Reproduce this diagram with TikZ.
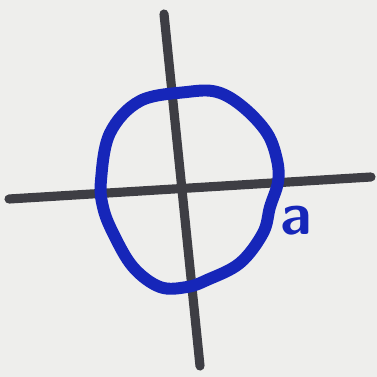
\documentclass[tikz,border=0pt]{standalone}
\usepackage{tikz}
\usetikzlibrary{positioning}
\definecolor{paper}{RGB}{238,238,236}
\definecolor{ink}{RGB}{22,38,185}
\definecolor{pencil}{RGB}{62,62,68}
\tikzset{
  axis/.style={pencil, line width=2.6pt, line cap=round},
  loop/.style={ink, line width=3.4pt, line cap=round, line join=round},
  tag/.style={ink, font=\fontsize{17}{17}\selectfont\sffamily\bfseries, inner sep=0pt}
}

\begin{document}
\begin{tikzpicture}[x=0.01cm, y=-0.01cm]
  % paper
  \fill[paper] (0,0) rectangle (377,377);
  \useasboundingbox (0,0) rectangle (377,377);
  % axes
  \coordinate (vtop) at (164,14);
  \coordinate (vbot) at (200,366);
  \coordinate (hleft) at (9,199);
  \coordinate (hright) at (371,177);
  \draw[axis] (vtop) -- (vbot);
  \draw[axis] (hleft) -- (hright);
  % blue loop
  \draw[loop] plot[smooth cycle, tension=0.6] coordinates {
    (101,180) (110,133) (140,101) (187,92) (217,92) (243,107)
    (267,133) (277,160) (278,182) (270,207) (263,233) (240,263)
    (207,280) (187,287) (160,287) (133,267) (113,233) (103,207)};
  % label
  \node[tag] (a) at (296,221) {a};
\end{tikzpicture}
\end{document}
